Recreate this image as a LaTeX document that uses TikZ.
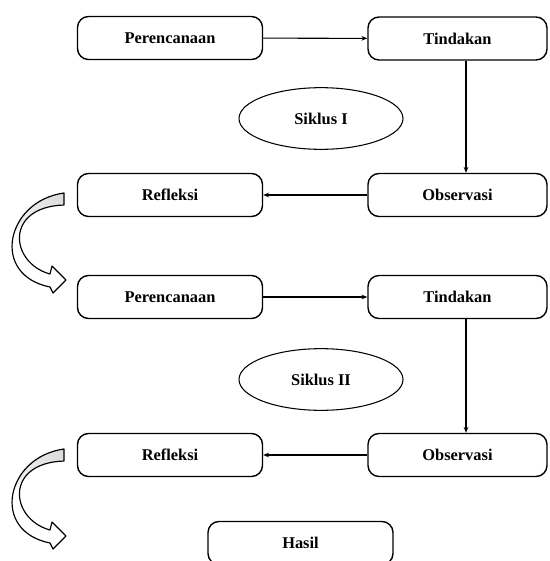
\documentclass[tikz,border=0pt]{standalone}
\usepackage{fontspec}
\setmainfont{Liberation Serif}
\usetikzlibrary{arrows.meta,shapes.geometric}

\tikzset{
  pics/putar/.style={code={
    \path[left color=gray!12, right color=gray!28] (0,1) .. controls (-30,3) and (-45,20) .. (-50,42) .. controls (-38,22) and (-24,14) .. (0,11) -- cycle; % sisi dalam
    \draw[line width=1pt, line join=round] (0,0) .. controls (-58,8) and (-74,82) .. (-14,94) -- (-11,100) -- (2,87) -- (-12,73) -- (-14,81) .. controls (-54,70) and (-60,14) .. (0,12) -- cycle;
  }}
}

\begin{document}
\begin{tikzpicture}[x=0.03cm, y=-0.03cm,
    kotak/.style={draw, rounded corners=0.33cm, line width=1.2pt, minimum width=5.55cm, minimum height=1.29cm, inner sep=0pt, font=\fontsize{14}{16}\selectfont\bfseries},
    siklus/.style={draw, ellipse, line width=0.9pt, minimum width=4.92cm, minimum height=1.85cm, inner sep=0pt, font=\fontsize{14}{16}\selectfont\bfseries},
    panah/.style={-{Stealth[length=5pt,width=4pt]}, line width=0.9pt}]
    \useasboundingbox (0,0) rectangle (549,561);

    % siklus I
    \node[kotak] (per1) at (170,38) {Perencanaan};
    \node[kotak, minimum width=5.37cm] (tin1) at (457.5,38.5) {Tindakan};
    \node[siklus] (sik1) at (321,118.5) {Siklus I};
    \node[kotak] (ref1) at (170,195) {Refleksi};
    \node[kotak, minimum width=5.37cm] (obs1) at (457.5,195) {Observasi};

    % siklus II
    \node[kotak] (per2) at (170,297) {Perencanaan};
    \node[kotak, minimum width=5.37cm] (tin2) at (457.5,297) {Tindakan};
    \node[siklus] (sik2) at (321,379.5) {Siklus II};
    \node[kotak] (ref2) at (170,455) {Refleksi};
    \node[kotak, minimum width=5.37cm] (obs2) at (457.5,455) {Observasi};

    \node[kotak] (has) at (300.5,543) {Hasil};

    \draw[panah] (per1) -- (tin1);
    \draw[panah] ([xshift=0.255cm]tin1.south) -- ([xshift=0.255cm]obs1.north);
    \draw[panah] (obs1) -- (ref1);
    \draw[panah] (per2) -- (tin2);
    \draw[panah] ([xshift=0.255cm]tin2.south) -- ([xshift=0.255cm]obs2.north);
    \draw[panah] (obs2) -- (ref2);

    \pic at (64,193) {putar}; % ke siklus II
    \pic at (64,449) {putar}; % ke hasil
\end{tikzpicture}
\end{document}
